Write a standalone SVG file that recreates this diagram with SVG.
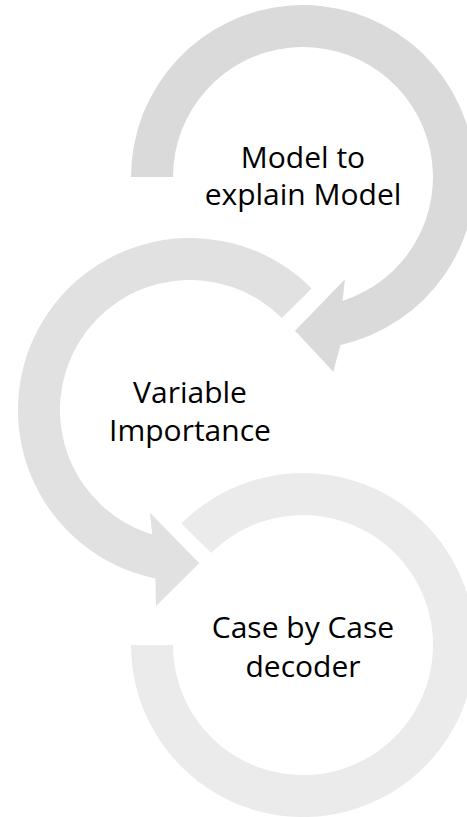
<svg xmlns="http://www.w3.org/2000/svg" width="467" height="817" viewBox="0 0 467 817">
  <style>
    .label { font-family: "Open Sans", "Liberation Sans", sans-serif; font-size: 30px; fill: #000000; text-anchor: middle; }
    .a1 { fill: #dadada; }
    .a2 { fill: #e1e1e1; }
    .a3 { fill: #ebebeb; }
  </style>
  <rect width="467" height="817" fill="#ffffff"/>
  <g id="connectors">
    <!-- step 1: ring around (303,177), arrow head pointing into step 2 -->
    <path class="a1" d="M131,177 A172,172 0 1 1 340.5,344.9 L333.3,371.7 L295,330.7 L345,279.3 L342.5,300.9 A130,130 0 1 0 173,177 Z"/>
    <!-- step 2: ring around (190,410), arrow head pointing into step 3 -->
    <path class="a2" d="M311.6,288.4 A172,172 0 1 0 155.4,578.5 L156,606 L199.3,563.3 L150,512.7 L152.2,534.4 A130,130 0 1 1 281.9,318.1 Z"/>
    <!-- step 3: ring around (303,645), flat end -->
    <path class="a3" d="M181.4,523.4 A172,172 0 1 1 131,645 L173,645 A130,130 0 1 0 211.1,553.1 Z"/>
  </g>
  <g id="node-model">
    <text class="label" x="303" y="168">Model to</text>
    <text class="label" x="303" y="205">explain Model</text>
  </g>
  <g id="node-variable">
    <text class="label" x="190" y="403">Variable</text>
    <text class="label" x="190" y="441">Importance</text>
  </g>
  <g id="node-case">
    <text class="label" x="303" y="638">Case by Case</text>
    <text class="label" x="303" y="677">decoder</text>
  </g>
</svg>
